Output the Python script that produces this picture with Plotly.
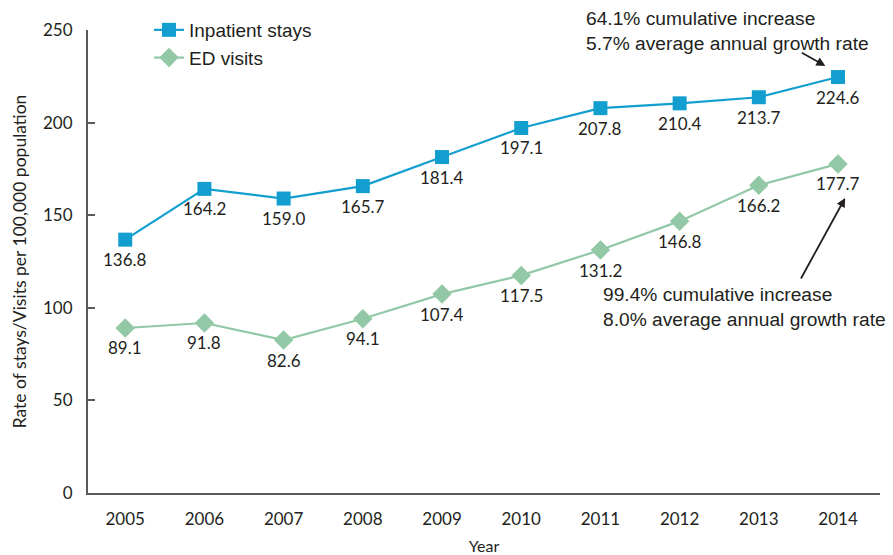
import plotly.graph_objects as go

# Rates per 100,000 population, 2005-2014
years = [2005, 2006, 2007, 2008, 2009, 2010, 2011, 2012, 2013, 2014]
inpatient_stays = [136.8, 164.2, 159.0, 165.7, 181.4, 197.1, 207.8, 210.4, 213.7, 224.6]
ed_visits = [89.1, 91.8, 82.6, 94.1, 107.4, 117.5, 131.2, 146.8, 166.2, 177.7]
y_ticks = [0, 50, 100, 150, 200, 250]

BLUE = "#129fcf"
GREEN = "#92c8a6"
TEXT = "#231f20"
AXIS = "#5a5a5a"
NUM_FONT = "Lato"
SANS = "Liberation Sans"

fig = go.Figure()

fig.add_trace(go.Scatter(
    x=years, y=inpatient_stays, name="Inpatient stays",
    mode="lines+markers",
    line=dict(color=BLUE, width=2.2),
    marker=dict(symbol="square", size=14, color=BLUE),
    cliponaxis=False,
))

fig.add_trace(go.Scatter(
    x=years, y=ed_visits, name="ED visits",
    mode="lines+markers",
    line=dict(color=GREEN, width=2.2),
    marker=dict(symbol="diamond", size=15, color=GREEN),
    cliponaxis=False,
))

# Value labels under each marker
for series in (inpatient_stays, ed_visits):
    for yr, v in zip(years, series):
        fig.add_annotation(
            x=yr, y=v, xref="x", yref="y", showarrow=False,
            text=f"{v:.1f}", yshift=-20, yanchor="middle",
            font=dict(family=NUM_FONT, size=17, color=TEXT),
        )

# Growth callouts with arrows
fig.add_annotation(
    x=2013.84, y=230.6, xref="x", yref="y",
    ax=-25, ay=-14, showarrow=True, text="",
    arrowhead=2, arrowsize=1, arrowwidth=1.8, arrowcolor=TEXT,
)
fig.add_annotation(
    x=2010.79, y=249.2, xref="x", yref="y",
    xanchor="left", yanchor="middle", align="left", showarrow=False,
    text="64.1% cumulative increase<br>5.7% average annual growth rate",
    font=dict(family=SANS, size=19.2, color=TEXT),
)
fig.add_annotation(
    x=2014.09, y=159.3, xref="x", yref="y",
    ax=-45, ay=82, showarrow=True, text="",
    arrowhead=2, arrowsize=1, arrowwidth=1.8, arrowcolor=TEXT,
)
fig.add_annotation(
    x=2011.01, y=100.4, xref="x", yref="y",
    xanchor="left", yanchor="middle", align="left", showarrow=False,
    text="99.4% cumulative increase<br>8.0% average annual growth rate",
    font=dict(family=SANS, size=19.2, color=TEXT),
)

# Plot area spans y = 30..493 px; the legend sits in the band above it
TOP, BOTTOM = 5, 62
plot_h = 555 - TOP - BOTTOM
y_domain_top = 463 / plot_h

fig.update_layout(
    width=893, height=555,
    margin=dict(l=88, r=13, t=TOP, b=BOTTOM),
    paper_bgcolor="white", plot_bgcolor="white",
    showlegend=True,
    legend=dict(
        x=0.077, y=1 - 6 / plot_h, xanchor="left", yanchor="top",
        bgcolor="rgba(0,0,0,0)",
        font=dict(family=SANS, size=19, color=TEXT),
        tracegroupgap=0,
    ),
    xaxis=dict(
        range=[2004.53, 2014.53],
        tickmode="array", tickvals=years, ticktext=[str(y) for y in years],
        showgrid=False, zeroline=False,
        showline=True, linecolor=AXIS, linewidth=2,
        ticks="", ticklabelstandoff=10,
        automargin=False,
        tickfont=dict(family=NUM_FONT, size=17, color=TEXT),
        title=dict(text="Year", font=dict(family=NUM_FONT, size=16, color=TEXT), standoff=17),
    ),
    yaxis=dict(
        domain=[0, y_domain_top],
        range=[0, 250],
        tickmode="array", tickvals=y_ticks,
        showgrid=False, zeroline=False,
        showline=True, linecolor=AXIS, linewidth=2,
        ticks="inside", ticklen=7, tickcolor=AXIS, tickwidth=1.5,
        ticklabelstandoff=10,
        automargin=False,
        tickfont=dict(family=NUM_FONT, size=17, color=TEXT),
        title=dict(text="Rate of stays/Visits per 100,000 population",
                   font=dict(family=NUM_FONT, size=17.5, color=TEXT), standoff=12),
    ),
)

fig.write_html("out.html")
